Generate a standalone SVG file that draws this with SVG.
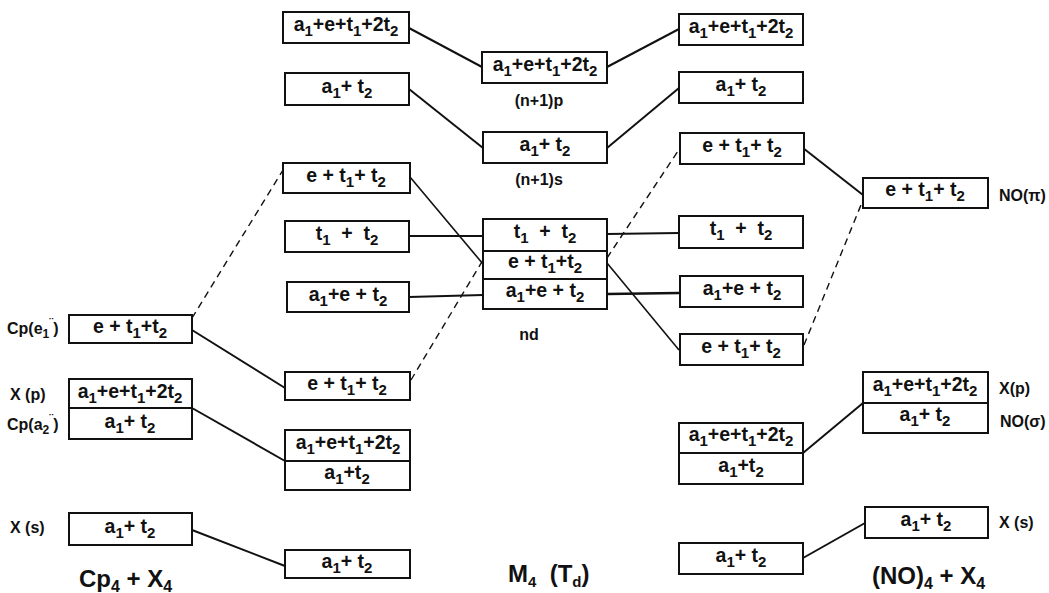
<svg xmlns="http://www.w3.org/2000/svg" width="1049" height="593" viewBox="0 0 1049 593">
<style>
.bx{fill:#fff;stroke:#111;stroke-width:2}
.t{font-family:"Liberation Sans",Arial,sans-serif;font-weight:bold;font-size:19.5px;fill:#111;text-anchor:middle}
.s{font-size:15px}
.lb{font-family:"Liberation Sans",Arial,sans-serif;font-weight:bold;font-size:16px;fill:#111}
.ls{font-size:12px}
.ti{font-family:"Liberation Sans",Arial,sans-serif;font-weight:bold;font-size:24px;fill:#111}
.ln{stroke:#111;stroke-width:2;fill:none}
.dl{stroke:#111;stroke-width:1.4;fill:none;stroke-dasharray:7 5}
</style>
<rect width="1049" height="593" fill="#fff"/>
<g id="connectors">
<line class="ln" x1="409" y1="28" x2="482" y2="67"/>
<line class="ln" x1="607" y1="67" x2="679" y2="29"/>
<line class="ln" x1="409" y1="89" x2="483" y2="148"/>
<line class="ln" x1="607" y1="148" x2="679" y2="88"/>
<line class="ln" x1="410" y1="177" x2="483" y2="264" style="stroke-width:1.6"/>
<line class="ln" x1="409" y1="236" x2="483" y2="236"/>
<line class="ln" x1="409" y1="297" x2="483" y2="295"/>
<line class="ln" x1="607" y1="234" x2="679" y2="233"/>
<line class="ln" x1="607" y1="294" x2="679" y2="293" style="stroke-width:2.6"/>
<line class="ln" x1="607" y1="263" x2="679" y2="350" style="stroke-width:1.6"/>
<line class="dl" x1="192" y1="318" x2="283" y2="170"/>
<line class="ln" x1="192" y1="330" x2="285" y2="388"/>
<line class="dl" x1="411" y1="380" x2="483" y2="260"/>
<line class="dl" x1="607" y1="258" x2="680" y2="148"/>
<line class="ln" x1="803" y1="148" x2="863" y2="195"/>
<line class="dl" x1="804" y1="345" x2="863" y2="200"/>
<line class="ln" x1="192" y1="408" x2="285" y2="461"/>
<line class="ln" x1="192" y1="530" x2="285" y2="566"/>
<line class="ln" x1="803" y1="453" x2="863" y2="403"/>
<line class="ln" x1="803" y1="558" x2="865" y2="523"/>
</g>

<!-- Column 1 -->
<g id="c1-e">
<rect class="bx" x="69" y="315" width="123" height="28"/>
<text class="t" x="130" y="333" xml:space="preserve">e + t<tspan class="s" dy="5">1</tspan><tspan dy="-5">+t</tspan><tspan class="s" dy="5">2</tspan></text>
</g>
<g id="c1-p">
<rect class="bx" x="69" y="379" width="123" height="29"/>
<text class="t" x="130" y="398">a<tspan class="s" dy="5">1</tspan><tspan dy="-5">+e+t</tspan><tspan class="s" dy="5">1</tspan><tspan dy="-5">+2t</tspan><tspan class="s" dy="5">2</tspan></text>
</g>
<g id="c1-a2">
<rect class="bx" x="69" y="408" width="123" height="31"/>
<text class="t" x="130" y="428" xml:space="preserve">a<tspan class="s" dy="5">1</tspan><tspan dy="-5">+ t</tspan><tspan class="s" dy="5">2</tspan></text>
</g>
<g id="c1-s">
<rect class="bx" x="69" y="513" width="123" height="32"/>
<text class="t" x="130" y="533" xml:space="preserve">a<tspan class="s" dy="5">1</tspan><tspan dy="-5">+ t</tspan><tspan class="s" dy="5">2</tspan></text>
</g>

<!-- Column 2 -->
<g id="c2-1">
<rect class="bx" x="283" y="12" width="126" height="31"/>
<text class="t" x="346" y="31">a<tspan class="s" dy="5">1</tspan><tspan dy="-5">+e+t</tspan><tspan class="s" dy="5">1</tspan><tspan dy="-5">+2t</tspan><tspan class="s" dy="5">2</tspan></text>
</g>
<g id="c2-2">
<rect class="bx" x="285" y="73" width="124" height="32"/>
<text class="t" x="347" y="93" xml:space="preserve">a<tspan class="s" dy="5">1</tspan><tspan dy="-5">+ t</tspan><tspan class="s" dy="5">2</tspan></text>
</g>
<g id="c2-3">
<rect class="bx" x="283" y="163" width="127" height="30"/>
<text class="t" x="346" y="182" xml:space="preserve">e + t<tspan class="s" dy="5">1</tspan><tspan dy="-5">+ t</tspan><tspan class="s" dy="5">2</tspan></text>
</g>
<g id="c2-4">
<rect class="bx" x="285" y="221" width="124" height="31"/>
<text class="t" x="347" y="240" xml:space="preserve">t<tspan class="s" dy="5">1</tspan><tspan dy="-5">  +  t</tspan><tspan class="s" dy="5">2</tspan></text>
</g>
<g id="c2-5">
<rect class="bx" x="287" y="282" width="122" height="30"/>
<text class="t" x="348" y="301" xml:space="preserve">a<tspan class="s" dy="5">1</tspan><tspan dy="-5">+e + t</tspan><tspan class="s" dy="5">2</tspan></text>
</g>
<g id="c2-6">
<rect class="bx" x="285" y="372" width="125" height="28"/>
<text class="t" x="347" y="390" xml:space="preserve">e + t<tspan class="s" dy="5">1</tspan><tspan dy="-5">+ t</tspan><tspan class="s" dy="5">2</tspan></text>
</g>
<g id="c2-7">
<rect class="bx" x="285" y="430" width="125" height="31"/>
<text class="t" x="348" y="449">a<tspan class="s" dy="5">1</tspan><tspan dy="-5">+e+t</tspan><tspan class="s" dy="5">1</tspan><tspan dy="-5">+2t</tspan><tspan class="s" dy="5">2</tspan></text>
</g>
<g id="c2-8">
<rect class="bx" x="285" y="461" width="125" height="29"/>
<text class="t" x="347" y="479">a<tspan class="s" dy="5">1</tspan><tspan dy="-5">+t</tspan><tspan class="s" dy="5">2</tspan></text>
</g>
<g id="c2-9">
<rect class="bx" x="285" y="550" width="125" height="28"/>
<text class="t" x="347" y="568" xml:space="preserve">a<tspan class="s" dy="5">1</tspan><tspan dy="-5">+ t</tspan><tspan class="s" dy="5">2</tspan></text>
</g>

<!-- Middle column -->
<g id="m-1">
<rect class="bx" x="482" y="52" width="125" height="31"/>
<text class="t" x="545" y="71">a<tspan class="s" dy="5">1</tspan><tspan dy="-5">+e+t</tspan><tspan class="s" dy="5">1</tspan><tspan dy="-5">+2t</tspan><tspan class="s" dy="5">2</tspan></text>
<text class="lb" x="539" y="106" text-anchor="middle">(n+1)p</text>
</g>
<g id="m-2">
<rect class="bx" x="483" y="132" width="124" height="31"/>
<text class="t" x="545" y="151" xml:space="preserve">a<tspan class="s" dy="5">1</tspan><tspan dy="-5">+ t</tspan><tspan class="s" dy="5">2</tspan></text>
<text class="lb" x="539" y="185" text-anchor="middle">(n+1)s</text>
</g>
<g id="m-3">
<rect class="bx" x="483" y="219" width="124" height="32"/>
<text class="t" x="545" y="238" xml:space="preserve">t<tspan class="s" dy="5">1</tspan><tspan dy="-5">  +  t</tspan><tspan class="s" dy="5">2</tspan></text>
</g>
<g id="m-4">
<rect class="bx" x="483" y="251" width="124" height="28"/>
<text class="t" x="545" y="268" xml:space="preserve">e + t<tspan class="s" dy="5">1</tspan><tspan dy="-5">+t</tspan><tspan class="s" dy="5">2</tspan></text>
</g>
<g id="m-5">
<rect class="bx" x="483" y="279" width="124" height="30"/>
<text class="t" x="545" y="297" xml:space="preserve">a<tspan class="s" dy="5">1</tspan><tspan dy="-5">+e + t</tspan><tspan class="s" dy="5">2</tspan></text>
<text class="lb" x="529" y="340" text-anchor="middle">nd</text>
</g>

<!-- Column 3 -->
<g id="c3-1">
<rect class="bx" x="679" y="14" width="124" height="31"/>
<text class="t" x="741" y="33">a<tspan class="s" dy="5">1</tspan><tspan dy="-5">+e+t</tspan><tspan class="s" dy="5">1</tspan><tspan dy="-5">+2t</tspan><tspan class="s" dy="5">2</tspan></text>
</g>
<g id="c3-2">
<rect class="bx" x="679" y="72" width="124" height="31"/>
<text class="t" x="741" y="91" xml:space="preserve">a<tspan class="s" dy="5">1</tspan><tspan dy="-5">+ t</tspan><tspan class="s" dy="5">2</tspan></text>
</g>
<g id="c3-3">
<rect class="bx" x="680" y="133" width="124" height="31"/>
<text class="t" x="742" y="152" xml:space="preserve">e + t<tspan class="s" dy="5">1</tspan><tspan dy="-5">+ t</tspan><tspan class="s" dy="5">2</tspan></text>
</g>
<g id="c3-4">
<rect class="bx" x="679" y="216" width="124" height="32"/>
<text class="t" x="741" y="235" xml:space="preserve">t<tspan class="s" dy="5">1</tspan><tspan dy="-5">  +  t</tspan><tspan class="s" dy="5">2</tspan></text>
</g>
<g id="c3-5">
<rect class="bx" x="680" y="276" width="123" height="31"/>
<text class="t" x="742" y="295" xml:space="preserve">a<tspan class="s" dy="5">1</tspan><tspan dy="-5">+e + t</tspan><tspan class="s" dy="5">2</tspan></text>
</g>
<g id="c3-6">
<rect class="bx" x="680" y="334" width="123" height="31"/>
<text class="t" x="741" y="353" xml:space="preserve">e + t<tspan class="s" dy="5">1</tspan><tspan dy="-5">+ t</tspan><tspan class="s" dy="5">2</tspan></text>
</g>
<g id="c3-7">
<rect class="bx" x="679" y="423" width="124" height="30"/>
<text class="t" x="741" y="441">a<tspan class="s" dy="5">1</tspan><tspan dy="-5">+e+t</tspan><tspan class="s" dy="5">1</tspan><tspan dy="-5">+2t</tspan><tspan class="s" dy="5">2</tspan></text>
</g>
<g id="c3-8">
<rect class="bx" x="679" y="453" width="124" height="31"/>
<text class="t" x="741" y="472">a<tspan class="s" dy="5">1</tspan><tspan dy="-5">+t</tspan><tspan class="s" dy="5">2</tspan></text>
</g>
<g id="c3-9">
<rect class="bx" x="679" y="543" width="124" height="31"/>
<text class="t" x="741" y="562" xml:space="preserve">a<tspan class="s" dy="5">1</tspan><tspan dy="-5">+ t</tspan><tspan class="s" dy="5">2</tspan></text>
</g>

<!-- Column 4 -->
<g id="c4-pi">
<rect class="bx" x="863" y="178" width="125" height="30"/>
<text class="t" x="925" y="196" xml:space="preserve">e + t<tspan class="s" dy="5">1</tspan><tspan dy="-5">+ t</tspan><tspan class="s" dy="5">2</tspan></text>
</g>
<g id="c4-p">
<rect class="bx" x="863" y="372" width="125" height="31"/>
<text class="t" x="925" y="391">a<tspan class="s" dy="5">1</tspan><tspan dy="-5">+e+t</tspan><tspan class="s" dy="5">1</tspan><tspan dy="-5">+2t</tspan><tspan class="s" dy="5">2</tspan></text>
</g>
<g id="c4-sigma">
<rect class="bx" x="863" y="403" width="125" height="30"/>
<text class="t" x="925" y="421" xml:space="preserve">a<tspan class="s" dy="5">1</tspan><tspan dy="-5">+ t</tspan><tspan class="s" dy="5">2</tspan></text>
</g>
<g id="c4-s">
<rect class="bx" x="865" y="507" width="123" height="31"/>
<text class="t" x="926" y="526" xml:space="preserve">a<tspan class="s" dy="5">1</tspan><tspan dy="-5">+ t</tspan><tspan class="s" dy="5">2</tspan></text>
</g>

<!-- Side labels -->
<g id="labels">
<text class="lb" x="7" y="334">Cp(e<tspan class="ls" dy="4">1</tspan><tspan font-size="12" dy="-11">¨</tspan><tspan dy="7">)</tspan></text>
<text class="lb" x="10" y="400" xml:space="preserve">X (p)</text>
<text class="lb" x="7" y="430">Cp(a<tspan class="ls" dy="4">2</tspan><tspan font-size="12" dy="-11">¨</tspan><tspan dy="7">)</tspan></text>
<text class="lb" x="10" y="533" xml:space="preserve">X (s)</text>
<text class="lb" x="999" y="201">NO(π)</text>
<text class="lb" x="999" y="394">X(p)</text>
<text class="lb" x="1000" y="427">NO(σ)</text>
<text class="lb" x="999" y="528" xml:space="preserve">X (s)</text>
<text class="ti" x="79" y="587" xml:space="preserve">Cp<tspan font-size="16" dy="5">4</tspan><tspan dy="-5"> + X</tspan><tspan font-size="16" dy="5">4</tspan></text>
<text class="ti" x="508" y="582" xml:space="preserve">M<tspan font-size="15" dy="5">4</tspan><tspan dy="-5">  (T</tspan><tspan font-size="15" dy="5">d</tspan><tspan dy="-5">)</tspan></text>
<text class="ti" x="872" y="584" xml:space="preserve">(NO)<tspan font-size="16" dy="5">4</tspan><tspan dy="-5"> + X</tspan><tspan font-size="16" dy="5">4</tspan></text>
</g>
</svg>
